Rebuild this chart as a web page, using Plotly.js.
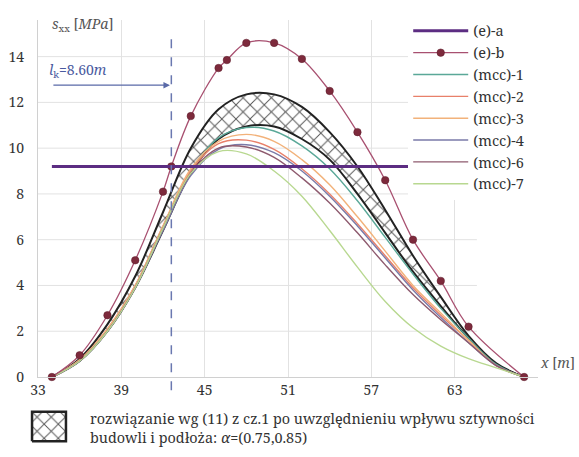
<!DOCTYPE html>
<html>
<head>
<meta charset="utf-8">
<script src="https://cdn.plot.ly/plotly-3.0.1.min.js"></script>
<style>html,body{margin:0;padding:0;background:#fff;}#chart{width:579px;height:457px;}</style>
</head>
<body>
<div id="chart"></div>
<script>
// ---- data ----
const xs = [34, 36, 38, 40, 42, 44, 46, 48, 50, 52, 54, 56, 58, 60, 62, 64, 66, 68];
const bandUpper = [0, 0.8, 2.3, 4.4, 7.2, 10.0, 11.7, 12.35, 12.35, 11.8, 10.7, 9.2, 7.3, 5.3, 3.5, 1.8, 0.6, 0];
const bandLower = [0, 0.7, 2.0, 3.9, 6.4, 8.9, 10.4, 10.95, 10.95, 10.4, 9.5, 8.0, 6.3, 4.6, 3.1, 1.7, 0.55, 0];
const mcc1 = [0, 0.7, 2.0, 3.9, 6.5, 9.0, 10.45, 10.9, 10.75, 10.1, 9.1, 7.7, 6.1, 4.5, 3.0, 1.7, 0.55, 0];
const mcc2 = [0, 0.75, 2.1, 4.0, 6.6, 9.0, 10.2, 10.35, 9.95, 9.1, 8.0, 6.7, 5.3, 3.9, 2.7, 1.6, 0.5, 0];
const mcc3 = [0, 0.75, 2.1, 4.0, 6.6, 9.1, 10.3, 10.6, 10.3, 9.5, 8.4, 7.0, 5.5, 4.0, 2.8, 1.6, 0.5, 0];
const mcc4 = [0, 0.7, 2.0, 3.9, 6.4, 8.8, 9.95, 10.15, 9.8, 9.0, 7.9, 6.6, 5.2, 3.8, 2.6, 1.5, 0.5, 0];
const mcc6 = [0, 0.7, 2.0, 3.9, 6.5, 8.9, 10.0, 10.05, 9.6, 8.7, 7.6, 6.3, 4.9, 3.6, 2.5, 1.5, 0.5, 0];
const mcc7 = [0, 0.7, 2.0, 3.9, 6.5, 8.9, 9.85, 9.75, 9.0, 7.9, 6.4, 4.8, 3.3, 2.15, 1.35, 0.8, 0.4, 0];
const ebX = [34, 36, 38, 40, 42, 42.6, 44, 46, 46.6, 48, 50, 52, 54, 56, 58, 60, 62, 64, 68];
const ebY = [0, 0.95, 2.7, 5.1, 8.1, 9.2, 11.4, 13.5, 13.85, 14.6, 14.6, 13.9, 12.5, 10.7, 8.6, 6.0, 4.2, 2.2, 0];
const eaX = [34, 60];
const eaY = [9.2, 9.2];
const xStart = 34;
const lk = 8.60;
const xTicks = [33, 39, 45, 51, 57, 63];
const yTicks = [0, 2, 4, 6, 8, 10, 12, 14];
const mccNames = ['(mcc)-1', '(mcc)-2', '(mcc)-3', '(mcc)-4', '(mcc)-6', '(mcc)-7'];
const mccSeries = [mcc1, mcc2, mcc3, mcc4, mcc6, mcc7];
const mccColors = ['#5aa898', '#e8806a', '#f2b27a', '#7a7aa8', '#8e5a6e', '#b8d890'];
const bandText = 'rozwiązanie wg (11) z cz.1 po uwzględnieniu wpływu sztywności<br>budowli i podłoża: <i>α</i>=(0.75,0.85)';

const serif = 'Noto Serif';
const pattern = {shape: 'x', fgcolor: '#555', bgcolor: '#fff', size: 10, solidity: 0.18};

const traces = [];
traces.push({x: xs, y: bandLower, type: 'scatter', mode: 'lines', line: {color: '#222', width: 2, shape: 'spline'}, showlegend: false, hoverinfo: 'skip'});
traces.push({x: xs, y: bandUpper, type: 'scatter', mode: 'lines', fill: 'tonexty', fillcolor: '#fff', fillpattern: pattern, line: {color: '#222', width: 2, shape: 'spline'}, showlegend: false, hoverinfo: 'skip'});
mccSeries.forEach((s, i) => {
  traces.push({x: xs, y: s, type: 'scatter', mode: 'lines', name: mccNames[i], line: {color: mccColors[i], width: 1.4, shape: 'spline'}, legendrank: 10 + i});
});
traces.push({x: ebX, y: ebY, type: 'scatter', mode: 'lines+markers', name: '(e)-b', cliponaxis: false,
  line: {color: '#a85070', width: 1.3, shape: 'spline'}, marker: {color: '#7d2a3c', size: 7.5, line: {color: '#5a1a28', width: 0.5}}, legendrank: 2});
traces.push({x: eaX, y: eaY, type: 'scatter', mode: 'lines', name: '(e)-a', line: {color: '#5c2d82', width: 3}, legendrank: 1});
traces.push({x: [0, 1, 1, 0, 0], y: [0, 0, 1, 1, 0], xaxis: 'x2', yaxis: 'y2', type: 'scatter', mode: 'lines', fill: 'toself', fillcolor: '#fff', fillpattern: pattern, line: {color: '#222', width: 2.5}, showlegend: false, hoverinfo: 'skip'});

const shapes = yTicks.filter(v => v > 0).map(v => ({type: 'line', xref: 'x', yref: 'y', x0: 33, x1: 64.6, y0: v, y1: v, line: {color: '#e2e2e2', width: 1}, layer: 'below'}));
shapes.push({type: 'line', xref: 'x', yref: 'paper', x0: xStart + lk, x1: xStart + lk, y0: 0.133, y1: 0.972, line: {color: '#6a78b0', width: 1.5, dash: 'dash'}});

const annotations = [
  {xref: 'x', yref: 'y', x: xStart + lk - 0.1, y: 12.75, ax: xStart, ay: 12.75, axref: 'x', ayref: 'y', text: '', showarrow: true, arrowhead: 2, arrowsize: 1, arrowwidth: 1.3, arrowcolor: '#5a6aa8'},
  {xref: 'x', yref: 'y', x: 33.65, y: 13.4, xanchor: 'left', yanchor: 'middle', showarrow: false, text: '<i>l</i><sub>k</sub>=8.60<i>m</i>', font: {family: serif, size: 14, color: '#4a5aa0'}},
  {xref: 'paper', yref: 'paper', x: (50 - 25) / 513, y: (447 - 24) / 427, xanchor: 'left', yanchor: 'middle', showarrow: false, text: '<i>s</i><sub>xx</sub> [<i>MPa</i>]', font: {family: serif, size: 14, color: '#555'}},
  {xref: 'paper', yref: 'paper', x: 1.0, y: (447 - 362) / 427, xanchor: 'left', yanchor: 'middle', showarrow: false, text: '<i>x</i> [<i>m</i>]', font: {family: serif, size: 14, color: '#555'}},
  {xref: 'paper', yref: 'paper', x: (88 - 25) / 513, y: (447 - 427.5) / 427, xanchor: 'left', yanchor: 'middle', align: 'left', showarrow: false, text: bandText, font: {family: serif, size: 14.4, color: '#333'}}
];

const layout = {
  width: 579, height: 457,
  margin: {l: 25, r: 41, t: 20, b: 10},
  paper_bgcolor: '#fff', plot_bgcolor: '#fff',
  font: {family: serif, size: 14, color: '#333'},
  showlegend: true,
  legend: {x: 0.747, y: 1.012, xanchor: 'left', yanchor: 'top', bgcolor: '#fff', borderwidth: 0, font: {family: serif, size: 14.5, color: '#333'}, itemwidth: 55, traceorder: 'normal'},
  xaxis: {domain: [13 / 513, 1], range: [33, 69], tickvals: xTicks, ticktext: xTicks.map(String), showgrid: true, gridcolor: '#e2e2e2', zeroline: false, showline: true, linecolor: '#d0d0d0', ticks: '', tickfont: {family: serif, size: 14, color: '#333'}},
  yaxis: {domain: [70 / 427, 1], range: [0, 15.6], tickvals: yTicks, ticktext: yTicks.map(String), showgrid: false, zeroline: false, showline: true, linecolor: '#d0d0d0', ticks: '', ticklabelstandoff: 10, tickfont: {family: serif, size: 14, color: '#333'}},
  xaxis2: {domain: [5 / 513, 43 / 513], range: [-0.06, 1.06], visible: false, anchor: 'y2', fixedrange: true},
  yaxis2: {domain: [4 / 427, 37 / 427], range: [-0.06, 1.06], visible: false, anchor: 'x2', fixedrange: true},
  shapes: shapes,
  annotations: annotations
};

Plotly.newPlot('chart', traces, layout, {staticPlot: true, displayModeBar: false});
</script>
</body>
</html>
